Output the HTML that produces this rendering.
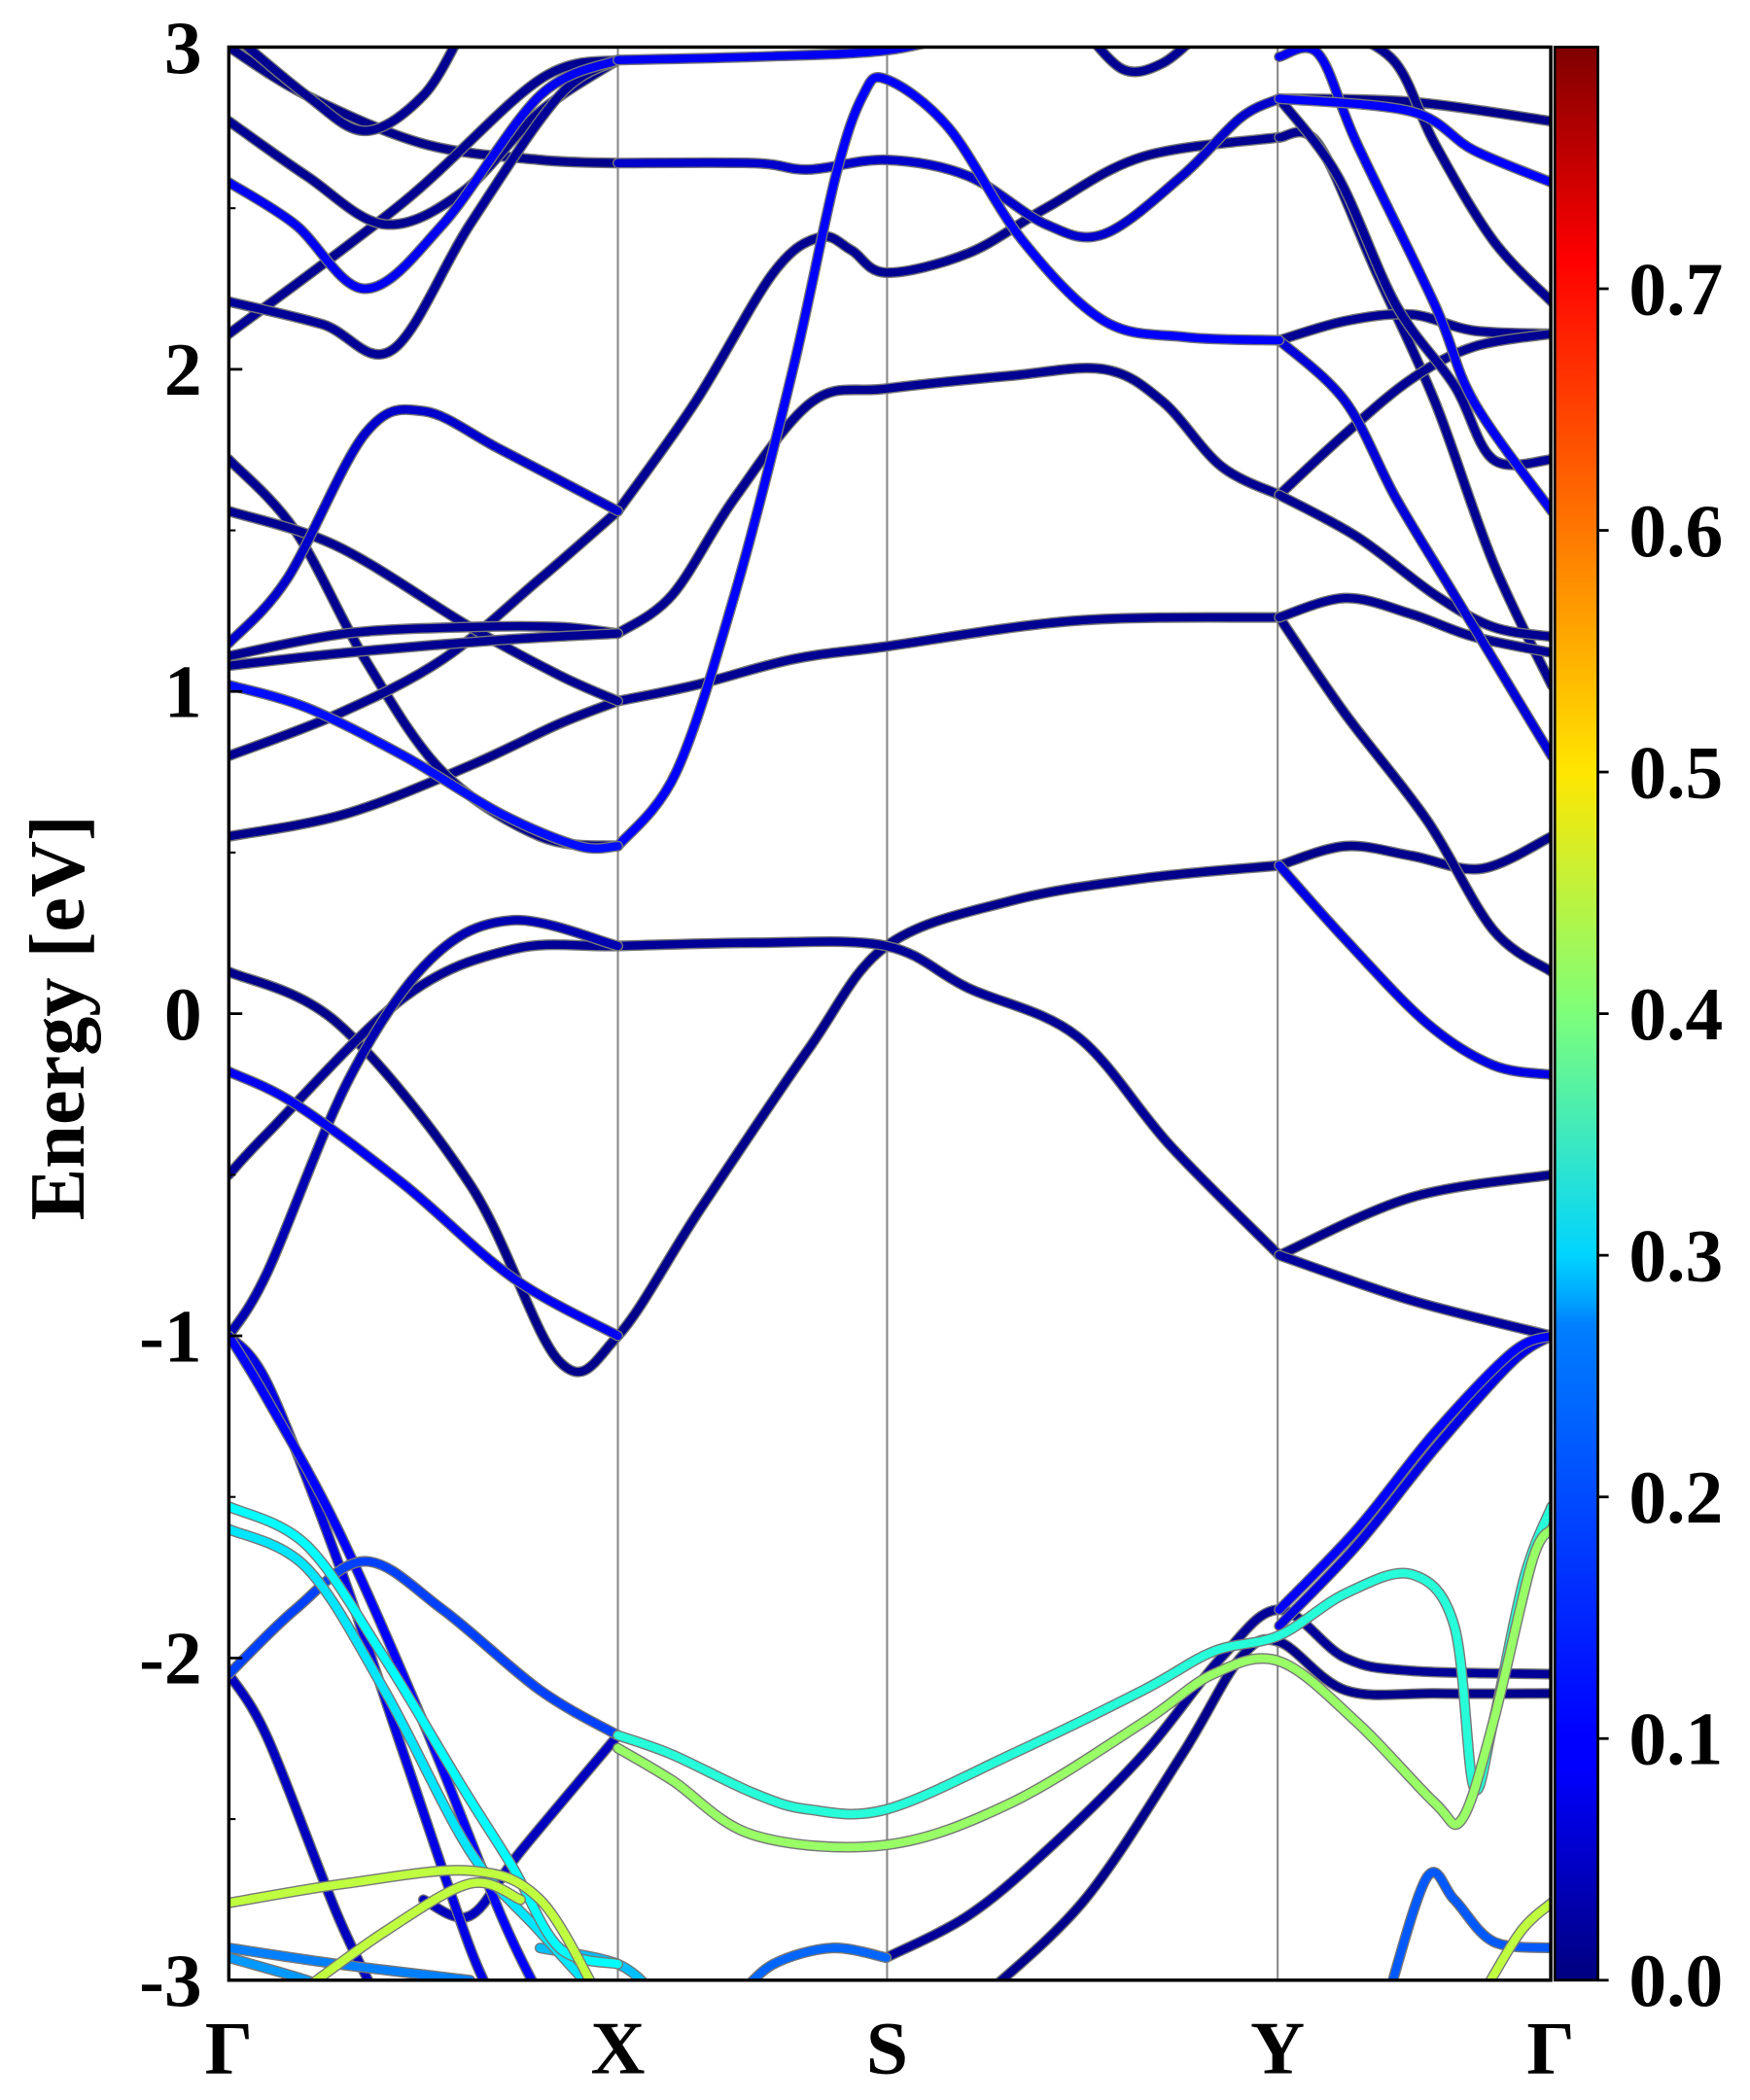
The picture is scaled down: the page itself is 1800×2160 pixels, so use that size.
<!DOCTYPE html>
<html><head><meta charset="utf-8"><style>
html,body{margin:0;padding:0;background:#fff}
svg{display:block}
text{font-family:"Liberation Serif",serif;font-weight:bold;fill:#000}
</style></head><body>
<svg id="chart" width="1800" height="2160" viewBox="0 0 1300 1560" xmlns="http://www.w3.org/2000/svg">
<defs>
<clipPath id="plotclip"><rect x="170" y="35" width="982" height="1436"/></clipPath>
<linearGradient id="jet" x1="0" y1="1" x2="0" y2="0">
<stop offset="0" stop-color="#00007f"/><stop offset="0.11" stop-color="#0000ff"/><stop offset="0.125" stop-color="#0000ff"/>
<stop offset="0.34" stop-color="#0080ff"/><stop offset="0.35" stop-color="#00a0ff"/><stop offset="0.375" stop-color="#00d4ff"/>
<stop offset="0.5" stop-color="#7dff7a"/><stop offset="0.625" stop-color="#ffe600"/><stop offset="0.75" stop-color="#ff7700"/>
<stop offset="0.89" stop-color="#ff0000"/><stop offset="1" stop-color="#7f0000"/>
</linearGradient>
</defs>
<g id="bands" clip-path="url(#plotclip)"></g>
<g id="axes"></g>
</svg>
<script>
// high-symmetry k positions and labels
const kLabels = ["Γ","X","S","Y","Γ"];
const kTicks = [0, 1, 1.692, 2.696, 3.398];
const yTicks = [-3,-2,-1,0,1,2,3];
const cbTicks = [0.0,0.1,0.2,0.3,0.4,0.5,0.6,0.7];
const cbMax = 0.8;
// bands: arrays of [k, E]; weights per band
const bands = [
[[0,2.11],[.45,2.52],[.8,2.9],[1,2.96]],
[[0,2.21],[.24,2.14],[.42,2.06],[.62,2.45],[.85,2.85],[1,2.96]],
[[0,2.58],[.17,2.45],[.35,2.25],[.55,2.45],[.8,2.85],[1,2.96]],
[[0,3.0],[.2,2.85],[.5,2.7],[.8,2.65],[1,2.64]],
[[0,2.77],[.2,2.6],[.4,2.45],[.6,2.55],[.8,2.8],[1,2.96]],
[[0,3.05],[.2,2.85],[.35,2.74],[.5,2.85],[.6,3.05]],
[[1,2.96],[1.35,2.97],[1.69,2.99],[1.9,3.05]],
[[1,2.64],[1.35,2.64],[1.49,2.62],[1.69,2.65],[1.9,2.6],[2.1,2.45],[2.25,2.42],[2.45,2.6],[2.6,2.78],[2.7,2.84]],
[[2.7,2.84],[3.04,2.83],[3.4,2.77]],
[[1,1.56],[1.2,1.9],[1.4,2.3],[1.52,2.41],[1.6,2.37],[1.69,2.30],[1.9,2.36],[2.1,2.5],[2.35,2.66],[2.7,2.72]],
[[1,0.52],[1.15,0.75],[1.3,1.3],[1.45,2.0],[1.56,2.6],[1.63,2.85],[1.69,2.9],[1.85,2.75],[2.04,2.4],[2.25,2.15],[2.46,2.1],[2.7,2.09]],
[[1,1.18],[1.14,1.3],[1.3,1.6],[1.5,1.9],[1.69,1.94],[2.01,1.98],[2.25,2.0],[2.4,1.9],[2.55,1.7],[2.7,1.61]],
[[1,0.97],[1.2,1.02],[1.45,1.1],[1.69,1.14],[2.18,1.22],[2.7,1.23]],
[[2.7,2.72],[2.8,2.7],[2.95,2.3],[3.1,1.9],[3.25,1.4],[3.4,1.02]],
[[2.7,2.84],[2.85,2.6],[3.0,2.2],[3.15,1.95],[3.25,1.72],[3.4,1.72]],
[[2.7,2.97],[2.8,2.98],[2.9,2.7],[3.1,2.2],[3.2,1.9],[3.4,1.56]],
[[2.7,2.09],[2.87,2.15],[3.04,2.17],[3.2,2.12],[3.4,2.11]],
[[2.7,1.61],[2.87,1.8],[3.04,1.97],[3.2,2.07],[3.4,2.11]],
[[2.7,1.61],[2.9,1.48],[3.1,1.3],[3.25,1.2],[3.4,1.17]],
[[2.7,2.09],[2.87,1.9],[3.0,1.6],[3.15,1.3],[3.3,1.0],[3.4,0.8]],
[[2.7,1.23],[2.87,1.29],[3.04,1.24],[3.2,1.17],[3.4,1.12]],
[[2.87,3.05],[3.0,2.95],[3.1,2.7],[3.25,2.4],[3.4,2.21]],
[[2.7,2.84],[3.04,2.8],[3.2,2.68],[3.4,2.58]],
[[2.2,3.05],[2.3,2.93],[2.4,2.95],[2.5,3.05]],
[[0,1.72],[.17,1.5],[.35,1.1],[.55,0.75],[.8,0.55],[1,0.52]],
[[0,1.02],[.2,0.95],[.45,0.8],[.7,0.62],[.9,0.52],[1,0.52]],
[[0,0.55],[.3,0.62],[.62,0.77],[.85,0.9],[1,0.97]],
[[0,0.80],[.28,0.93],[.55,1.1],[.8,1.35],[1,1.56]],
[[0,1.56],[.28,1.45],[.62,1.2],[.85,1.05],[1,0.97]],
[[0,1.11],[.3,1.18],[.62,1.2],[.85,1.2],[1,1.18]],
[[0,1.15],[.15,1.35],[.35,1.8],[.5,1.87],[.7,1.75],[1,1.56]],
[[0,1.08],[.3,1.12],[.7,1.16],[1,1.18]],
[[0,0.13],[.28,-0.03],[.62,-0.53],[.85,-1.08],[1,-1.0],[1.21,-0.61],[1.49,-0.11],[1.69,0.21],[2.01,0.35],[2.35,0.42],[2.7,0.46]],
[[0,-0.18],[.17,-0.28],[.45,-0.53],[.73,-0.82],[1,-1.0]],
[[0,-0.5],[.1,-0.37],[.45,0.05],[.73,0.2],[1,0.21],[1.35,0.22],[1.69,0.21],[1.9,0.08],[2.18,-0.07],[2.42,-0.41],[2.7,-0.75]],
[[0,-1.0],[.1,-0.8],[.31,-0.2],[.52,0.17],[.73,0.29],[1,0.21]],
[[2.7,-0.75],[3.04,-0.57],[3.4,-0.5]],
[[2.7,-0.75],[3.04,-0.89],[3.4,-1.0]],
[[2.7,0.46],[2.87,0.52],[3.04,0.49],[3.22,0.45],[3.4,0.55]],
[[2.7,0.46],[2.87,0.23],[3.08,-0.03],[3.25,-0.16],[3.4,-0.19]],
[[2.7,1.23],[2.87,0.93],[3.08,0.6],[3.25,0.26],[3.4,0.13]],
[[0,-1],[.1,-1.2],[.28,-1.6],[.5,-2.2],[.7,-2.8],[.8,-3.05]],
[[0,-1],[.1,-1.15],[.28,-1.7],[.45,-2.3],[.62,-2.9],[.7,-3.1]],
[[0,-2.05],[.17,-1.85],[.35,-1.7],[.55,-1.85],[.8,-2.1],[1,-2.24]],
[[0,-2.05],[.1,-2.25],[.28,-2.8],[.4,-3.1]],
[[0,-1.53],[.2,-1.65],[.4,-2.0],[.6,-2.4],[.73,-2.65],[.85,-2.9],[1,-2.95]],
[[0,-1.6],[.2,-1.72],[.4,-2.1],[.62,-2.6],[.8,-2.85],[.95,-3.05]],
[[.5,-2.75],[.62,-2.8],[.75,-2.6],[1,-2.24]],
[[1,-2.24],[1.14,-2.3],[1.35,-2.42],[1.49,-2.47],[1.69,-2.47],[2.01,-2.3],[2.35,-2.1],[2.53,-1.98],[2.7,-1.93],[2.87,-1.8],[3.04,-1.74],[3.15,-1.9],[3.2,-2.4],[3.25,-2.2],[3.33,-1.75],[3.4,-1.53]],
[[1,-2.28],[1.14,-2.38],[1.35,-2.55],[1.69,-2.58],[2.01,-2.45],[2.35,-2.2],[2.53,-2.05],[2.7,-2.01],[2.9,-2.2],[3.1,-2.45],[3.17,-2.5],[3.25,-2.2],[3.35,-1.7],[3.4,-1.6]],
[[1.69,-2.93],[1.9,-2.8],[2.1,-2.6],[2.35,-2.3],[2.55,-2.0],[2.7,-1.85],[2.87,-2.0],[3.04,-2.04],[3.4,-2.05]],
[[1.94,-3.05],[2.2,-2.75],[2.45,-2.3],[2.6,-2.0],[2.7,-1.95],[2.87,-2.1],[3.1,-2.11],[3.4,-2.11]],
[[2.7,-1.85],[2.9,-1.6],[3.1,-1.3],[3.3,-1.05],[3.4,-1.0]],
[[2.7,-1.9],[2.9,-1.65],[3.1,-1.35],[3.3,-1.08],[3.4,-1.0]],
[[.8,-2.9],[1,-2.95],[1.1,-3.05]],
[[1.31,-3.05],[1.4,-2.95],[1.55,-2.9],[1.69,-2.93]],
[[0,-2.76],[.3,-2.7],[.62,-2.66],[.8,-2.75],[.95,-3.05]],
[[0,-2.9],[.28,-2.95],[.62,-3.0]],
[[0,-2.93],[.2,-3.0],[.3,-3.05]],
[[.17,-3.05],[.4,-2.85],[.62,-2.7],[.75,-2.75]],
[[2.98,-3.05],[3.08,-2.68],[3.15,-2.75],[3.25,-2.88],[3.4,-2.9]],
[[3.22,-3.05],[3.32,-2.85],[3.4,-2.76]]
];
const weights = [0.015,0.02,0.09,0.01,0.015,0.015,0.09,0.06,0.01,0.015,0.1,0.015,0.015,0.015,0.02,0.09,0.015,0.015,0.015,0.07,0.015,0.015,0.1,0.015,
0.015,0.11,0.01,0.015,0.015,0.015,0.06,0.015,
0.01,0.09,0.02,0.04,0.01,0.025,0.01,0.08,0.01,
0.1,0.08,0.15,0.05,0.30,0.28,0.05,0.33,0.42,0.02,0.01,0.1,0.08,0.25,0.18,0.45,0.2,0.22,0.45,0.17,0.45];

const NS="http://www.w3.org/2000/svg";
const X0=170,X1=1152,Y0=35,Y1=1471,KMAX=3.398,EMIN=-3,EMAX=3;
const xS=k=>X0+(k/KMAX)*(X1-X0);
const yS=e=>Y1-(e-EMIN)/(EMAX-EMIN)*(Y1-Y0);
function jet(v){
  let t=Math.max(0,Math.min(1,v/cbMax));
  const f=x=>Math.max(0,Math.min(1,x));
  const r=f(1.5-Math.abs(4*t-3)),g=f(1.5-Math.abs(4*t-2)),b=f(1.5-Math.abs(4*t-1));
  return `rgb(${Math.round(r*255)},${Math.round(g*255)},${Math.round(b*255)})`;
}
function mk(tag,attrs,parent){const e=document.createElementNS(NS,tag);for(const a in attrs)e.setAttribute(a,attrs[a]);parent.appendChild(e);return e;}
function smooth(pts){
  const p=pts.map(q=>[xS(q[0]),yS(q[1])]);
  let d=`M${p[0][0]},${p[0][1]}`;
  for(let i=0;i<p.length-1;i++){
    const a=p[Math.max(0,i-1)],b=p[i],c=p[i+1],e=p[Math.min(p.length-1,i+2)];
    const c1=[b[0]+(c[0]-a[0])/6,b[1]+(c[1]-a[1])/6],c2=[c[0]-(e[0]-b[0])/6,c[1]-(e[1]-b[1])/6];
    d+=`C${c1[0]},${c1[1]} ${c2[0]},${c2[1]} ${c[0]},${c[1]}`;
  }
  return d;
}
const bg=document.getElementById('bands');
kTicks.slice(1,-1).forEach(k=>{
  const l=mk('line',{x1:xS(k),x2:xS(k),y1:Y0,y2:Y1,stroke:'#888','stroke-width':1.5},bg);
  
  
});
const order=bands.map((b,i)=>i).sort((a,b)=>weights[a]-weights[b]);
order.forEach(i=>{
  const o=mk('path',{d:smooth(bands[i]),fill:'none',stroke:'#777','stroke-width':8,'stroke-linecap':'round'},bg);
  
  
  const p=mk('path',{d:smooth(bands[i]),fill:'none',stroke:jet(weights[i]),'stroke-width':6,'stroke-linecap':'round'},bg);
  
  
});
const ax=document.getElementById('axes');
const fr=mk('rect',{x:X0,y:Y0,width:X1-X0,height:Y1-Y0,fill:'none',stroke:'#000','stroke-width':2.5},ax);


yTicks.forEach(v=>{
  const t=mk('line',{x1:X0,x2:X0+10,y1:yS(v),y2:yS(v),stroke:'#000','stroke-width':2},ax);
  
  
  const tx=mk('text',{x:150,y:yS(v)+19,'text-anchor':'end','font-size':56},ax);
  tx.textContent=String(v);
  
  
});
for(let v=-2.5;v<3;v+=1){
  const t=mk('line',{x1:X0,x2:X0+5,y1:yS(v),y2:yS(v),stroke:'#000','stroke-width':1.5},ax);
  
  
}
kTicks.forEach((k,i)=>{
  const tx=mk('text',{x:xS(k),y:1540,'text-anchor':'middle','font-size':56},ax);
  tx.textContent=kLabels[i];
  
  
});
const yt=mk('text',{x:0,y:0,'text-anchor':'middle','font-size':58,transform:'translate(62,756) rotate(-90)'},ax);
yt.textContent='Energy [eV]';


const CB0=1155,CBW=32;
const cb=mk('rect',{x:CB0,y:Y0,width:CBW,height:Y1-Y0,fill:'url(#jet)',stroke:'#000','stroke-width':2},ax);


cbTicks.forEach(v=>{
  const y=Y1-(v/cbMax)*(Y1-Y0);
  const t=mk('line',{x1:CB0+CBW,x2:CB0+CBW+8,y1:y,y2:y,stroke:'#000','stroke-width':2},ax);
  
  
  const tx=mk('text',{x:1210,y:y+19,'font-size':56},ax);
  tx.textContent=v.toFixed(1);
  
  
});
</script>
</body></html>
